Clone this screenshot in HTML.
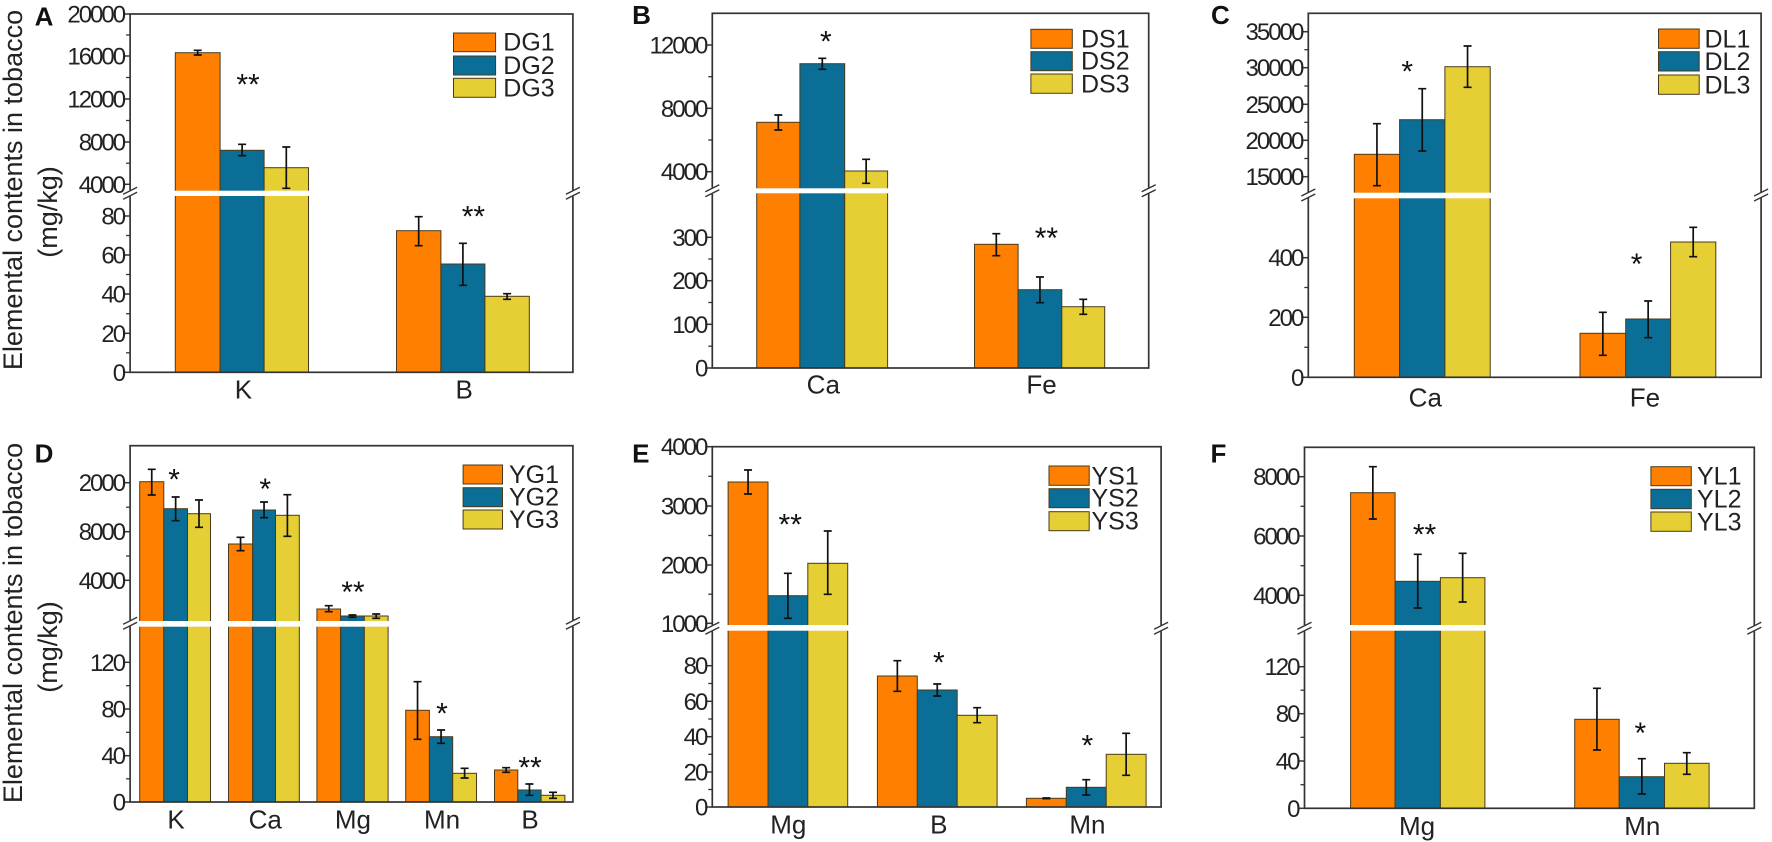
<!DOCTYPE html>
<html><head><meta charset="utf-8"><style>
html,body{margin:0;padding:0;background:#fff;}
svg{display:block;font-family:"Liberation Sans",Arial,sans-serif;}
</style></head><body>
<svg id="s" width="1772" height="842" viewBox="0 0 1772 842" xmlns="http://www.w3.org/2000/svg">
<rect width="1772" height="842" fill="#fff"/>
<text transform="translate(22,190) rotate(-90)" text-anchor="middle" font-size="27" fill="#222">Elemental contents in tobacco</text>
<text transform="translate(57,212) rotate(-90)" text-anchor="middle" font-size="27" fill="#222">(mg/kg)</text>
<text transform="translate(22,623) rotate(-90)" text-anchor="middle" font-size="27" fill="#222">Elemental contents in tobacco</text>
<text transform="translate(57,647) rotate(-90)" text-anchor="middle" font-size="27" fill="#222">(mg/kg)</text>
</svg>
<script>
var C=["#FF7F00","#0A6E96","#E6CF35"];
var P=[
{sx:2.613,ox:0,oy:0,box:[340,1497,42,1117],segs:[[[42,'20000'],[168,'16000'],[297,'12000'],[426,'8000'],[553,'4000']],[[648,'80'],[765,'60'],[882,'40'],[1000,'20'],[1117,'0']]],brk:580,band:[572,588],
bars:[[458,575,690,806],[1036,1152,1267,1383]],
vals:[[[158,151,165],[451,433,467],[503,441,565]],[[692,650,737],[792,730,856],[889,881,898]]],
stars:[[648,245,'**'],[1237,640,'**']],leg:[1185,1295,[[99,155],[168,225],[235,292]],1315,['DG1','DG2','DG3']],
cats:[[636,'K'],[1213,'B']],caty:1165,letter:[115,50,'A']},
{sx:2.658,ox:590,oy:0,box:[325,1485,40,1104],segs:[[[135,'12000'],[325,'8000'],[515,'4000']],[[712,'300'],[842,'200'],[973,'100'],[1104,'0']]],brk:572,band:[565,580],
bars:[[443,558,677,791],[1022,1138,1254,1368]],
vals:[[[367,345,390],[191,175,208],[513,478,550]],[[733,701,767],[869,831,908],[920,898,943]]],
stars:[[627,115,'*'],[1213,705,'**']],leg:[1172,1282,[[88,145],[155,212],[222,280]],1305,['DS1','DS2','DS3']],
cats:[[620,'Ca'],[1200,'Fe']],caty:1150,letter:[137,45,'B']},
{sx:2.65,ox:1180,oy:0,box:[340,1540,40,1132],segs:[[[95,'35000'],[203,'30000'],[313,'25000'],[421,'20000'],[530,'15000']],[[773,'400'],[952,'200'],[1132,'0']]],brk:585,band:[578,595],
bars:[[462,582,702,822],[1060,1181,1300,1420]],
vals:[[[463,371,557],[359,266,453],[200,138,262]],[[1000,937,1066],[957,903,1013],[726,682,770]]],
stars:[[602,205,'*'],[1210,783,'*']],leg:[1268,1376,[[87,145],[155,213],[225,283]],1390,['DL1','DL2','DL3']],
cats:[[650,'Ca'],[1232,'Fe']],caty:1190,letter:[107,45,'C']},
{sx:2.613,ox:0,oy:420,box:[340,1497,77,1146],segs:[[[188,'2000'],[335,'8000'],[481,'4000']],[[727,'120'],[867,'80'],[1007,'40'],[1146,'0']]],brk:610,band:[603,620],
bars:[[365,428,490,550],[597,660,720,782],[828,890,952,1014],[1060,1122,1183,1245],[1292,1353,1414,1476]],
vals:[[[185,148,225],[266,231,302],[281,240,322]],[[372,352,392],[270,246,293],[286,224,349]],[[567,557,575],[588,585,592],[588,582,595]],[[871,785,958],[950,930,970],[1060,1045,1074]],[[1050,1043,1057],[1110,1092,1126],[1126,1117,1135]]],
stars:[[455,170,'*'],[693,198,'*'],[922,507,'**'],[1155,871,'*'],[1385,1033,'**']],leg:[1210,1313,[[135,192],[203,260],[270,327]],1330,['YG1','YG2','YG3']],
cats:[[460,'K'],[693,'Ca'],[922,'Mg'],[1155,'Mn'],[1385,'B']],caty:1195,letter:[115,100,'D']},
{sx:2.658,ox:590,oy:420,box:[325,1518,80,1161],segs:[[[80,'4000'],[258,'3000'],[435,'2000'],[610,'1000']],[[737,'80'],[844,'60'],[950,'40'],[1056,'20'],[1161,'0']]],brk:625,band:[615,632],
bars:[[367,473,579,685],[764,870,976,1082],[1160,1266,1372,1478]],
vals:[[[186,150,222],[527,460,595],[430,333,523]],[[768,722,814],[810,792,828],[886,863,908]],[[1135,1134,1136],[1102,1079,1125],[1003,940,1066]]],
stars:[[532,305,'**'],[927,718,'*'],[1322,967,'*']],leg:[1220,1327,[[138,196],[206,263],[275,332]],1333,['YS1','YS2','YS3']],
cats:[[527,'Mg'],[927,'B'],[1322,'Mn']],caty:1210,letter:[135,100,'E']},
{sx:2.65,ox:1180,oy:420,box:[330,1522,82,1165],segs:[[[170,'8000'],[348,'6000'],[526,'4000']],[[740,'120'],[881,'80'],[1023,'40'],[1165,'0']]],brk:625,band:[615,632],
bars:[[452,570,690,808],[1046,1164,1284,1402]],
vals:[[[218,140,297],[484,403,564],[473,400,546]],[[898,805,990],[1070,1016,1122],[1030,998,1063]]],
stars:[[648,335,'**'],[1220,930,'*']],leg:[1248,1355,[[140,197],[208,266],[276,334]],1370,['YL1','YL2','YL3']],
cats:[[628,'Mg'],[1225,'Mn']],caty:1215,letter:[102,100,'F']}
];
var h='';
P.forEach(function(p){
 var X=function(v){return +(v/p.sx+p.ox).toFixed(1)}, Y=function(v){return +(v/3+p.oy).toFixed(1)};
 var L=X(p.box[0]),R=X(p.box[1]),T=Y(p.box[2]),B=Y(p.box[3]);
 p.bars.forEach(function(g,gi){
  for(var i=0;i<3;i++){var x0=X(g[i]),x1=X(g[i+1]),v=p.vals[gi][i],t=Y(v[0]);
   h+='<rect x="'+x0+'" y="'+t+'" width="'+(x1-x0)+'" height="'+(B-t)+'" fill="'+C[i]+'" stroke="#4a3a1a" stroke-width="1"/>';}
  if(Y(p.vals[gi][0][0])<Y(p.band[0])||Y(p.vals[gi][1][0])<Y(p.band[0])){
   h+='<rect x="'+(X(g[0])-1)+'" y="'+Y(p.band[0])+'" width="'+(X(g[3])-X(g[0])+2)+'" height="'+(Y(p.band[1])-Y(p.band[0]))+'" fill="#fff"/>';}
  for(var i=0;i<3;i++){var cx=(X(g[i])+X(g[i+1]))/2,v=p.vals[gi][i],a=Y(v[1]),b=Y(v[2]);
   h+='<path d="M'+cx+' '+a+'V'+b+'M'+(cx-4)+' '+a+'H'+(cx+4)+'M'+(cx-4)+' '+b+'H'+(cx+4)+'" stroke="#111" stroke-width="1.7" fill="none"/>';}
 });
 h+='<rect x="'+L+'" y="'+T+'" width="'+(R-L)+'" height="'+(B-T)+'" fill="none" stroke="#333" stroke-width="1.7"/>';
 p.segs.forEach(function(s){
  s.forEach(function(t,k){var y=Y(t[0]);
   h+='<line x1="'+(L-7)+'" y1="'+y+'" x2="'+L+'" y2="'+y+'" stroke="#333" stroke-width="1.5"/>';
   h+='<text x="'+(L-6)+'" y="'+(y+8.5)+'" font-size="24" letter-spacing="-2" text-anchor="end" fill="#222">'+t[1]+'</text>';
   if(k<s.length-1){var m=Y((t[0]+s[k+1][0])/2);h+='<line x1="'+(L-4)+'" y1="'+m+'" x2="'+L+'" y2="'+m+'" stroke="#333" stroke-width="1.3"/>';}
  });
 });
 var by=Y(p.brk);
 [L,R].forEach(function(x){
  h+='<rect x="'+(x-3)+'" y="'+(by-3)+'" width="6" height="6" fill="#fff"/>';
  h+='<path d="M'+(x-7)+' '+(by+1)+'L'+(x+7)+' '+(by-6)+'M'+(x-7)+' '+(by+6)+'L'+(x+7)+' '+(by-1)+'" stroke="#333" stroke-width="1.4"/>';
 });
 p.stars.forEach(function(s){h+='<text x="'+X(s[0])+'" y="'+(Y(s[1])+13)+'" font-size="30" text-anchor="middle" fill="#111">'+s[2]+'</text>';});
 var lg=p.leg;
 lg[2].forEach(function(r,i){var y0=Y(r[0]),y1=Y(r[1]);
  h+='<rect x="'+X(lg[0])+'" y="'+y0+'" width="'+(X(lg[1])-X(lg[0]))+'" height="'+(y1-y0)+'" fill="'+C[i]+'" stroke="#4a3a1a" stroke-width="1"/>';
  h+='<text x="'+X(lg[3])+'" y="'+(y1-1)+'" font-size="25" fill="#222">'+lg[4][i]+'</text>';});
 p.cats.forEach(function(c){h+='<text x="'+X(c[0])+'" y="'+(Y(p.caty)+10)+'" font-size="26" text-anchor="middle" fill="#222">'+c[1]+'</text>';});
 h+='<text x="'+X(p.letter[0])+'" y="'+(Y(p.letter[1])+9)+'" font-size="26" font-weight="bold" text-anchor="middle" fill="#111">'+p.letter[2]+'</text>';
});
document.getElementById('s').insertAdjacentHTML('beforeend',h);
</script>
</body></html>
